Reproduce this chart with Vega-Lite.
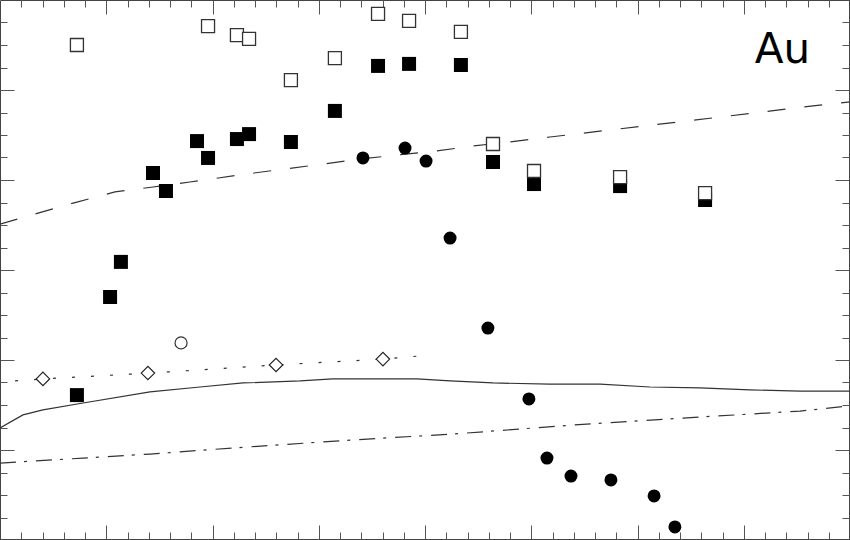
{
  "$schema": "https://vega.github.io/schema/vega-lite/v6.json",
  "description": "Au panel: filled and open squares, circles, diamonds and four model curves.",
  "width": 850,
  "height": 540,
  "autosize": {"type": "none"},
  "padding": 0,
  "config": {"view": {"stroke": null}, "background": "white"},
  "datasets": {
    "curves": [
      {"series": "solid", "x": 0, "y": 4.98},
      {"series": "solid", "x": 1.08, "y": 5.56},
      {"series": "solid", "x": 2.02, "y": 5.78},
      {"series": "solid", "x": 3.91, "y": 6.09},
      {"series": "solid", "x": 7.06, "y": 6.58},
      {"series": "solid", "x": 9.41, "y": 6.8},
      {"series": "solid", "x": 11.44, "y": 6.98},
      {"series": "solid", "x": 14.12, "y": 7.07},
      {"series": "solid", "x": 15.67, "y": 7.16},
      {"series": "solid", "x": 19.62, "y": 7.16},
      {"series": "solid", "x": 21.18, "y": 7.07},
      {"series": "solid", "x": 23.2, "y": 6.98},
      {"series": "solid", "x": 25.88, "y": 6.93},
      {"series": "solid", "x": 28.24, "y": 6.93},
      {"series": "solid", "x": 30.59, "y": 6.8},
      {"series": "solid", "x": 32.94, "y": 6.76},
      {"series": "solid", "x": 35.29, "y": 6.67},
      {"series": "solid", "x": 37.65, "y": 6.62},
      {"series": "solid", "x": 40, "y": 6.62},
      {"series": "dashed", "x": 0, "y": 14.04},
      {"series": "dashed", "x": 1.79, "y": 14.53},
      {"series": "dashed", "x": 3.62, "y": 15.02},
      {"series": "dashed", "x": 5.41, "y": 15.47},
      {"series": "dashed", "x": 7.2, "y": 15.69},
      {"series": "dashed", "x": 8.94, "y": 15.91},
      {"series": "dashed", "x": 11.62, "y": 16.27},
      {"series": "dashed", "x": 13.41, "y": 16.49},
      {"series": "dashed", "x": 15.2, "y": 16.71},
      {"series": "dashed", "x": 16.94, "y": 16.93},
      {"series": "dashed", "x": 18.68, "y": 17.11},
      {"series": "dashed", "x": 20.56, "y": 17.29},
      {"series": "dashed", "x": 22.26, "y": 17.51},
      {"series": "dashed", "x": 24.0, "y": 17.69},
      {"series": "dashed", "x": 25.88, "y": 17.91},
      {"series": "dashed", "x": 30.68, "y": 18.44},
      {"series": "dashed", "x": 34.26, "y": 18.84},
      {"series": "dashed", "x": 37.74, "y": 19.24},
      {"series": "dashed", "x": 40, "y": 19.47},
      {"series": "dashdot", "x": 0, "y": 3.42},
      {"series": "dashdot", "x": 3.91, "y": 3.64},
      {"series": "dashdot", "x": 7.06, "y": 3.82},
      {"series": "dashdot", "x": 10.96, "y": 4.09},
      {"series": "dashdot", "x": 16.47, "y": 4.44},
      {"series": "dashdot", "x": 21.32, "y": 4.71},
      {"series": "dashdot", "x": 26.96, "y": 5.11},
      {"series": "dashdot", "x": 32.14, "y": 5.42},
      {"series": "dashdot", "x": 37.65, "y": 5.73},
      {"series": "dashdot", "x": 40, "y": 5.96},
      {"series": "dotted", "x": 0.71, "y": 7.07},
      {"series": "dotted", "x": 2.02, "y": 7.16},
      {"series": "dotted", "x": 7.06, "y": 7.42},
      {"series": "dotted", "x": 12.99, "y": 7.78},
      {"series": "dotted", "x": 18.02, "y": 8.04},
      {"series": "dotted", "x": 19.76, "y": 8.18}
    ],
    "points": [
      {"kind": "filled_square", "x": 3.62, "y": 6.44},
      {"kind": "filled_square", "x": 5.18, "y": 10.8},
      {"kind": "filled_square", "x": 5.69, "y": 12.36},
      {"kind": "filled_square", "x": 7.2, "y": 16.31},
      {"kind": "filled_square", "x": 7.81, "y": 15.51},
      {"kind": "filled_square", "x": 9.27, "y": 17.73},
      {"kind": "filled_square", "x": 9.79, "y": 16.98},
      {"kind": "filled_square", "x": 11.15, "y": 17.82},
      {"kind": "filled_square", "x": 11.72, "y": 18.04},
      {"kind": "filled_square", "x": 13.69, "y": 17.69},
      {"kind": "filled_square", "x": 15.76, "y": 19.07},
      {"kind": "filled_square", "x": 17.79, "y": 21.07},
      {"kind": "filled_square", "x": 19.25, "y": 21.16},
      {"kind": "filled_square", "x": 21.69, "y": 21.11},
      {"kind": "filled_square", "x": 23.2, "y": 16.8},
      {"kind": "filled_square", "x": 25.13, "y": 15.82},
      {"kind": "filled_square", "x": 29.18, "y": 15.73},
      {"kind": "filled_square", "x": 33.18, "y": 15.11},
      {"kind": "open_square", "x": 3.62, "y": 22.0},
      {"kind": "open_square", "x": 9.79, "y": 22.84},
      {"kind": "open_square", "x": 11.15, "y": 22.44},
      {"kind": "open_square", "x": 11.72, "y": 22.27},
      {"kind": "open_square", "x": 13.69, "y": 20.44},
      {"kind": "open_square", "x": 15.76, "y": 21.42},
      {"kind": "open_square", "x": 17.79, "y": 23.38},
      {"kind": "open_square", "x": 19.25, "y": 23.07},
      {"kind": "open_square", "x": 21.69, "y": 22.58},
      {"kind": "open_square", "x": 23.2, "y": 17.6},
      {"kind": "open_square", "x": 25.13, "y": 16.4},
      {"kind": "open_square", "x": 29.18, "y": 16.13},
      {"kind": "open_square", "x": 33.18, "y": 15.42},
      {"kind": "filled_circle", "x": 17.08, "y": 16.98},
      {"kind": "filled_circle", "x": 19.06, "y": 17.42},
      {"kind": "filled_circle", "x": 20.05, "y": 16.84},
      {"kind": "filled_circle", "x": 21.18, "y": 13.42},
      {"kind": "filled_circle", "x": 22.96, "y": 9.42},
      {"kind": "filled_circle", "x": 24.89, "y": 6.27},
      {"kind": "filled_circle", "x": 25.74, "y": 3.64},
      {"kind": "filled_circle", "x": 26.87, "y": 2.84},
      {"kind": "filled_circle", "x": 28.75, "y": 2.67},
      {"kind": "filled_circle", "x": 30.78, "y": 1.96},
      {"kind": "filled_circle", "x": 31.76, "y": 0.58},
      {"kind": "open_circle", "x": 8.52, "y": 8.76},
      {"kind": "diamond", "x": 2.02, "y": 7.16},
      {"kind": "diamond", "x": 6.96, "y": 7.42},
      {"kind": "diamond", "x": 12.99, "y": 7.78},
      {"kind": "diamond", "x": 18.02, "y": 8.04}
    ],
    "labels": [
      {"label": "Au", "x": 35.52, "y": 21.2}
    ]
  },
  "resolve": {"axis": {"x": "independent", "y": "independent"}},
  "layer": [
    {
      "data": {"name": "curves"},
      "transform": [{"filter": "datum.series == 'solid'"}],
      "mark": {"type": "line", "stroke": "#333", "strokeWidth": 1.2},
      "encoding": {
        "x": {"field": "x", "type": "quantitative", "scale": {"domain": [0, 40], "nice": false, "zero": false},
          "axis": {"orient": "bottom", "values": [5, 10, 15, 20, 25, 30, 35], "tickSize": -14, "offset": -1, "labels": false, "title": null, "grid": false, "domain": true, "domainColor": "#444", "tickColor": "#555", "tickWidth": 1}},
        "y": {"field": "y", "type": "quantitative", "scale": {"domain": [0, 24], "nice": false, "zero": false},
          "axis": {"orient": "left", "values": [4, 8, 12, 16, 20], "tickSize": -14, "labels": false, "title": null, "grid": false, "domain": true, "domainColor": "#444", "tickColor": "#555", "tickWidth": 1}}
      }
    },
    {
      "data": {"name": "curves"},
      "transform": [{"filter": "datum.series == 'dashed'"}],
      "mark": {"type": "line", "stroke": "#333", "strokeWidth": 1.2, "strokeDash": [18, 19]},
      "encoding": {
        "x": {"field": "x", "type": "quantitative", "scale": {"domain": [0, 40], "nice": false, "zero": false},
          "axis": {"orient": "bottom", "values": [1, 2, 3, 4, 6, 7, 8, 9, 11, 12, 13, 14, 16, 17, 18, 19, 21, 22, 23, 24, 26, 27, 28, 29, 31, 32, 33, 34, 36, 37, 38, 39], "tickSize": -7, "offset": -1, "labels": false, "title": null, "grid": false, "domain": false, "tickColor": "#555", "tickWidth": 1}},
        "y": {"field": "y", "type": "quantitative", "scale": {"domain": [0, 24], "nice": false, "zero": false},
          "axis": {"orient": "left", "values": [1, 2, 3, 5, 6, 7, 9, 10, 11, 13, 14, 15, 17, 18, 19, 21, 22, 23], "tickSize": -7, "labels": false, "title": null, "grid": false, "domain": false, "tickColor": "#555", "tickWidth": 1}}
      }
    },
    {
      "data": {"name": "curves"},
      "transform": [{"filter": "datum.series == 'dashdot'"}],
      "mark": {"type": "line", "stroke": "#333", "strokeWidth": 1.2, "strokeDash": [16, 8, 3, 9]},
      "encoding": {
        "x": {"field": "x", "type": "quantitative", "scale": {"domain": [0, 40], "nice": false, "zero": false},
          "axis": {"orient": "top", "values": [5, 10, 15, 20, 25, 30, 35], "tickSize": -14, "labels": false, "title": null, "grid": false, "domain": true, "domainColor": "#444", "tickColor": "#555", "tickWidth": 1}},
        "y": {"field": "y", "type": "quantitative", "scale": {"domain": [0, 24], "nice": false, "zero": false},
          "axis": {"orient": "right", "values": [4, 8, 12, 16, 20], "tickSize": -14, "offset": -1, "labels": false, "title": null, "grid": false, "domain": true, "domainColor": "#444", "tickColor": "#555", "tickWidth": 1}}
      }
    },
    {
      "data": {"name": "curves"},
      "transform": [{"filter": "datum.series == 'dotted'"}],
      "mark": {"type": "line", "stroke": "#333", "strokeWidth": 1.2, "strokeDash": [3, 16]},
      "encoding": {
        "x": {"field": "x", "type": "quantitative", "scale": {"domain": [0, 40], "nice": false, "zero": false},
          "axis": {"orient": "top", "values": [1, 2, 3, 4, 6, 7, 8, 9, 11, 12, 13, 14, 16, 17, 18, 19, 21, 22, 23, 24, 26, 27, 28, 29, 31, 32, 33, 34, 36, 37, 38, 39], "tickSize": -7, "labels": false, "title": null, "grid": false, "domain": false, "tickColor": "#555", "tickWidth": 1}},
        "y": {"field": "y", "type": "quantitative", "scale": {"domain": [0, 24], "nice": false, "zero": false},
          "axis": {"orient": "right", "values": [1, 2, 3, 5, 6, 7, 9, 10, 11, 13, 14, 15, 17, 18, 19, 21, 22, 23], "tickSize": -7, "offset": -1, "labels": false, "title": null, "grid": false, "domain": false, "tickColor": "#555", "tickWidth": 1}}
      }
    },
    {
      "data": {"name": "points"},
      "transform": [{"filter": "datum.kind == 'filled_square'"}],
      "mark": {"type": "square", "size": 196, "color": "#000", "opacity": 1},
      "encoding": {
        "x": {"field": "x", "type": "quantitative", "scale": {"domain": [0, 40], "nice": false, "zero": false}, "axis": null},
        "y": {"field": "y", "type": "quantitative", "scale": {"domain": [0, 24], "nice": false, "zero": false}, "axis": null}
      }
    },
    {
      "data": {"name": "points"},
      "transform": [{"filter": "datum.kind == 'open_square'"}],
      "mark": {"type": "square", "size": 169, "fill": "white", "stroke": "#333", "strokeWidth": 1.3, "opacity": 1},
      "encoding": {
        "x": {"field": "x", "type": "quantitative", "scale": {"domain": [0, 40], "nice": false, "zero": false}, "axis": null},
        "y": {"field": "y", "type": "quantitative", "scale": {"domain": [0, 24], "nice": false, "zero": false}, "axis": null}
      }
    },
    {
      "data": {"name": "points"},
      "transform": [{"filter": "datum.kind == 'filled_circle'"}],
      "mark": {"type": "circle", "size": 168, "color": "#000", "opacity": 1},
      "encoding": {
        "x": {"field": "x", "type": "quantitative", "scale": {"domain": [0, 40], "nice": false, "zero": false}, "axis": null},
        "y": {"field": "y", "type": "quantitative", "scale": {"domain": [0, 24], "nice": false, "zero": false}, "axis": null}
      }
    },
    {
      "data": {"name": "points"},
      "transform": [{"filter": "datum.kind == 'open_circle'"}],
      "mark": {"type": "circle", "size": 145, "fill": "white", "stroke": "#333", "strokeWidth": 1.2, "opacity": 1},
      "encoding": {
        "x": {"field": "x", "type": "quantitative", "scale": {"domain": [0, 40], "nice": false, "zero": false}, "axis": null},
        "y": {"field": "y", "type": "quantitative", "scale": {"domain": [0, 24], "nice": false, "zero": false}, "axis": null}
      }
    },
    {
      "data": {"name": "points"},
      "transform": [{"filter": "datum.kind == 'diamond'"}],
      "mark": {"type": "point", "shape": "diamond", "size": 180, "fill": "white", "filled": true, "stroke": "#222", "strokeWidth": 1.2, "opacity": 1},
      "encoding": {
        "x": {"field": "x", "type": "quantitative", "scale": {"domain": [0, 40], "nice": false, "zero": false}, "axis": null},
        "y": {"field": "y", "type": "quantitative", "scale": {"domain": [0, 24], "nice": false, "zero": false}, "axis": null}
      }
    },
    {
      "data": {"name": "labels"},
      "mark": {"type": "text", "font": "DejaVu Sans", "fontSize": 42, "align": "left", "baseline": "alphabetic", "color": "#000"},
      "encoding": {
        "x": {"field": "x", "type": "quantitative", "scale": {"domain": [0, 40], "nice": false, "zero": false}, "axis": null},
        "y": {"field": "y", "type": "quantitative", "scale": {"domain": [0, 24], "nice": false, "zero": false}, "axis": null},
        "text": {"field": "label"}
      }
    }
  ]
}
